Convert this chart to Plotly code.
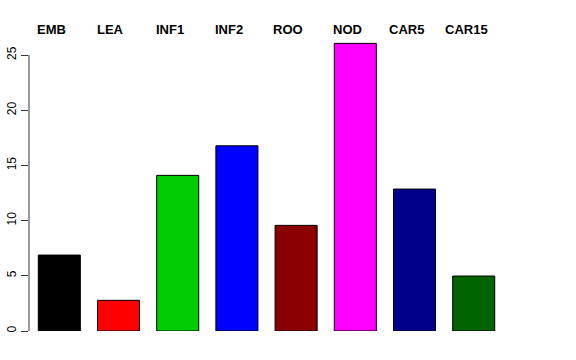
import plotly.graph_objects as go

categories = ["EMB", "LEA", "INF1", "INF2", "ROO", "NOD", "CAR5", "CAR15"]
values = [6.88, 2.78, 14.1, 16.78, 9.57, 26.06, 12.86, 4.98]
colors = ["#000000", "#FF0000", "#00CD00", "#0000FF", "#8B0000", "#FF00FF", "#00008B", "#006400"]
y_ticks = [0, 5, 10, 15, 20, 25]

x_pos = list(range(len(categories)))

fig = go.Figure()
fig.add_trace(go.Bar(
    x=x_pos, y=values, width=0.71,
    marker=dict(color=colors, line=dict(color="#000000", width=1)),
    hoverinfo="skip",
))

for i, c in enumerate(categories):
    fig.add_annotation(x=i - 0.13, y=1.0, xref="x", yref="paper", yshift=-14.5,
                       text="<b>" + c + "</b>", showarrow=False,
                       font=dict(family="Liberation Sans, Arial", size=13, color="black"),
                       xanchor="center", yanchor="middle")

# R-style axis line spanning only the tick range
fig.add_shape(type="line", xref="paper", yref="y", x0=0, x1=0, y0=0, y1=25,
              line=dict(color="#333333", width=1))

fig.update_layout(
    width=576, height=360,
    margin=dict(l=29, r=29, t=15, b=29, autoexpand=False),
    plot_bgcolor="white", paper_bgcolor="white",
    showlegend=False,
    xaxis=dict(range=[-0.512, 8.238], showticklabels=False, showgrid=False,
               zeroline=False, showline=False, ticks="", automargin=False),
    yaxis=dict(range=[0, 28.63], tickvals=y_ticks, ticktext=[str(v) for v in y_ticks],
               tickangle=-90, ticks="outside", ticklen=7, tickcolor="#333333",
               showgrid=False, zeroline=False, showline=False, automargin=False,
               tickfont=dict(family="Liberation Sans, Arial", size=12, color="black")),
)

fig.write_html("out.html", config={"displayModeBar": False},
               post_script="document.body.style.margin='0';")
